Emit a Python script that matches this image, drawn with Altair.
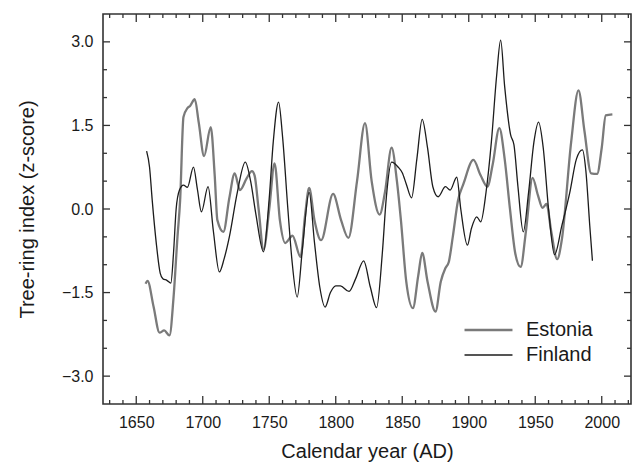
import altair as alt
import pandas as pd

# ---- data ----
est_years = [1657, 1658.5, 1663, 1667.5, 1671, 1675, 1678, 1681, 1683, 1685.5, 1688.5, 1690.5, 1694,
             1697, 1701, 1706, 1709, 1711, 1715.5, 1720, 1724, 1728, 1733, 1737, 1739, 1742, 1745.7,
             1750, 1754, 1758, 1762, 1767.5, 1773.5, 1777, 1780, 1784, 1789, 1798, 1804, 1809.5, 1816,
             1822, 1827, 1833, 1837, 1842, 1846, 1849, 1853, 1858, 1862, 1865, 1869, 1875, 1879,
             1882.5, 1885, 1888, 1892, 1896, 1903.5, 1909, 1914, 1918, 1923, 1927, 1931, 1935, 1939,
             1943, 1948, 1952, 1955.5, 1958.5, 1962, 1966.5, 1970, 1977, 1982.5, 1987, 1992, 1996.5,
             2000, 2003, 2008]
est_vals = [-1.34, -1.29, -1.75, -2.22, -2.18, -2.27, -1.6, -0.5, 0.16, 1.65, 1.81, 1.85, 1.97,
            1.55, 0.95, 1.47, 0.6, -0.2, -0.41, 0.2, 0.64, 0.34, 0.55, 0.68, 0.6, 0.0, -0.73,
            0.0, 0.82, -0.2, -0.61, -0.48, -0.86, -0.1, 0.38, -0.2, -0.56, 0.27, -0.2, -0.52, 0.5,
            1.54, 0.5, -0.1, 0.3, 1.1, 0.5, -0.2, -1.3, -1.78, -1.2, -0.79, -1.3, -1.84, -1.3,
            -1.06, -0.95, -0.5, 0.16, 0.45, 0.88, 0.6, 0.4, 0.8, 1.45, 0.9, 0.0, -0.8, -1.04,
            -0.4, 0.56, 0.25, 0.02, 0.09, -0.4, -0.9, -0.55, 1.2, 2.13, 1.4, 0.64, 0.63,
            1.1, 1.68, 1.7]

fin_years = [1657.8, 1660, 1662, 1665, 1668, 1670, 1673, 1676, 1678, 1680, 1682.5, 1685.5, 1688.5,
             1693, 1696, 1699, 1704, 1708, 1712.5, 1716, 1720, 1726, 1732, 1736, 1740, 1745.7,
             1750, 1753, 1757, 1760, 1764, 1767, 1771, 1775, 1780, 1784, 1788, 1792, 1796, 1800,
             1803.5, 1810, 1815, 1821, 1826, 1830.7, 1835, 1838, 1842, 1847, 1850, 1853, 1857,
             1861, 1865, 1869, 1873, 1877, 1882.5, 1886, 1891, 1894, 1899, 1902, 1906, 1909, 1913,
             1917, 1921, 1924, 1927, 1931.5, 1934, 1937, 1941, 1945, 1949, 1952.5, 1956, 1960,
             1964.5, 1970, 1976, 1981, 1985.5, 1988, 1991, 1993]
fin_vals = [1.04, 0.75, 0.16, -0.6, -1.15, -1.25, -1.28, -1.33, -0.8, 0.0, 0.34, 0.43, 0.39,
            0.75, 0.35, -0.05, 0.4, -0.4, -1.13, -0.9, -0.5, 0.3, 0.84, 0.5, -0.1, -0.77,
            0.2, 1.2, 1.92, 1.3, 0.0, -0.9, -1.58, -0.7, 0.3, -0.6, -1.4, -1.76, -1.5, -1.38,
            -1.38, -1.48, -1.25, -0.93, -1.4, -1.77, -0.8, 0.2, 0.84, 0.75, 0.65, 0.45, 0.2,
            0.9, 1.61, 1.1, 0.4, 0.22, 0.4, 0.34, 0.57, 0.0, -0.65, -0.35, -0.14, -0.23, 0.3,
            1.2, 2.4, 3.03, 2.2, 1.33, 1.15, 0.4, -0.41, 0.3, 1.2, 1.56, 1.1, 0.0,
            -0.82, -0.3, 0.3, 0.9, 1.06, 0.7, -0.3, -0.93]

series_names = ["Estonia", "Finland"]
series_colors = ["#7a7a7a", "#1c1c1c"]

x_major = [1650, 1700, 1750, 1800, 1850, 1900, 1950, 2000]
x_minor = [y for y in range(1630, 2030, 10) if y % 50 != 0]
y_major = [-3.0, -1.5, 0.0, 1.5, 3.0]
y_minor = [-2.5, -2.0, -1.0, -0.5, 0.5, 1.0, 2.0, 2.5]

# ---- build tables ----
df = pd.concat([
    pd.DataFrame({"year": est_years, "value": est_vals, "series": "Estonia"}),
    pd.DataFrame({"year": fin_years, "value": fin_vals, "series": "Finland"}),
])

W, H = 528, 390
FONT = "Liberation Sans"
xs = alt.Scale(domain=[1625, 2022], nice=False, zero=False)
ys = alt.Scale(domain=[-3.5, 3.5], nice=False, zero=False)

x_axis = alt.Axis(
    values=x_major, format="d", tickSize=0, domain=False, grid=False,
    labelFontSize=16, labelPadding=10, labelColor="#1a1a1a", labelFont=FONT,
    title="Calendar year (AD)", titleFontSize=20, titleFontWeight="normal",
    titleFont=FONT, titleColor="#1a1a1a", titlePadding=11)
y_axis = alt.Axis(
    values=y_major, format=".1f", tickSize=0, domain=False, grid=False,
    labelFontSize=16, labelPadding=10, labelColor="#1a1a1a", labelFont=FONT,
    title="Tree-ring index (z-score)", titleFontSize=20, titleFontWeight="normal",
    titleFont=FONT, titleColor="#1a1a1a", titlePadding=24)

lines = alt.Chart(df).mark_line(interpolate="monotone").encode(
    x=alt.X("year:Q", scale=xs, axis=x_axis, title="Calendar year (AD)"),
    y=alt.Y("value:Q", scale=ys, axis=y_axis, title="Tree-ring index (z-score)"),
    color=alt.Color("series:N", scale=alt.Scale(domain=series_names, range=series_colors),
                    legend=alt.Legend(title=None, orient="none", legendX=360, legendY=305,
                                      symbolType="stroke", symbolSize=2300, symbolStrokeWidth=2,
                                      labelFontSize=20, labelFont=FONT, labelColor="#1a1a1a",
                                      labelOffset=12, clipHeight=22, rowPadding=3,
                                      direction="vertical")),
    strokeWidth=alt.StrokeWidth("series:N", scale=alt.Scale(domain=series_names, range=[2.3, 1.3]),
                                legend=None),
)

tick_color = "#333333"
xmaj = pd.DataFrame({"t": x_major})
xmin = pd.DataFrame({"t": x_minor})
ymaj = pd.DataFrame({"t": y_major})
ymin = pd.DataFrame({"t": y_minor})

def xticks(d, length):
    enc_x = alt.X("t:Q", scale=xs, axis=x_axis, title="Calendar year (AD)")
    b = alt.Chart(d).mark_rule(color=tick_color, strokeWidth=1.3).encode(
        x=enc_x, y=alt.value(H), y2=alt.value(H - length))
    t = alt.Chart(d).mark_rule(color=tick_color, strokeWidth=1.3).encode(
        x=enc_x, y=alt.value(0), y2=alt.value(length))
    return [b, t]

def yticks(d, length):
    enc_y = alt.Y("t:Q", scale=ys, axis=y_axis, title="Tree-ring index (z-score)")
    l = alt.Chart(d).mark_rule(color=tick_color, strokeWidth=1.3).encode(
        y=enc_y, x=alt.value(0), x2=alt.value(length))
    r = alt.Chart(d).mark_rule(color=tick_color, strokeWidth=1.3).encode(
        y=enc_y, x=alt.value(W), x2=alt.value(W - length))
    return [l, r]

layers = [lines] + xticks(xmaj, 8) + xticks(xmin, 4) + yticks(ymaj, 7) + yticks(ymin, 4)

chart = alt.layer(*layers).properties(
    width=W, height=H,
    autosize=alt.AutoSizeParams(type="none"),
    padding={"left": 103, "top": 14, "right": 5, "bottom": 58},
    background="white",
).configure_view(stroke="#333333", strokeWidth=1.6)

chart.save("out.html", embed_options={"renderer": "svg", "actions": False})
